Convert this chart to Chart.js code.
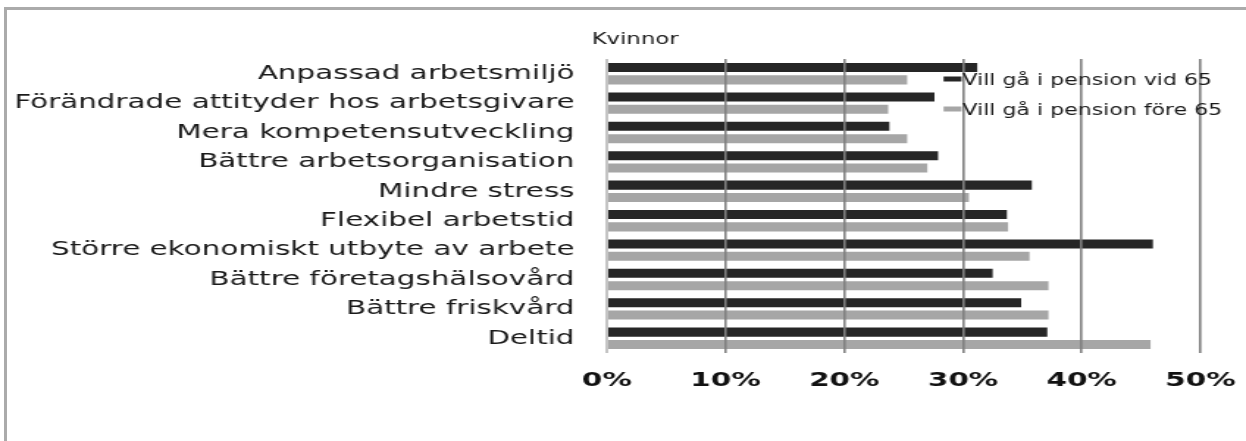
<!DOCTYPE html>
<html>
<head>
<meta charset="utf-8">
<script src="https://cdn.jsdelivr.net/npm/chart.js@4/dist/chart.umd.min.js"></script>
<style>
  html, body { margin: 0; background: #fff; overflow: hidden; width: 1246px; height: 441px; }
  #frame {
    position: absolute; left: 4px; top: 7px; width: 1250px; height: 440px;
    border-top: 3px solid #ababab; border-left: 3px solid #ababab;
  }
  #wrap {
    position: absolute; left: 0; top: 0; width: 858px; height: 441px;
    transform: scaleX(1.4693); transform-origin: 0 0;
  }
</style>
</head>
<body>
<div id="frame"></div>
<div id="wrap"><canvas id="chart" width="858" height="441"></canvas></div>
<script>
// data (percent)
const categories = [
    'Anpassad arbetsmiljö',
    'Förändrade attityder hos arbetsgivare',
    'Mera kompetensutveckling',
    'Bättre arbetsorganisation',
    'Mindre stress',
    'Flexibel arbetstid',
    'Större ekonomiskt utbyte av arbete',
    'Bättre företagshälsovård',
    'Bättre friskvård',
    'Deltid'
];
const vid65 = [31.2, 27.6, 23.8, 27.9, 35.8, 33.7, 46.0, 32.5, 34.9, 37.1];
const fore65 = [25.3, 23.7, 25.3, 27.0, 30.5, 33.8, 35.6, 37.2, 37.2, 45.8];
const tickLabels = ['0%', '10%', '20%', '30%', '40%', '50%'];
const seriesNames = ['Vill gå i pension vid 65', 'Vill gå i pension före 65'];
const chartTitle = 'Kvinnor';

const FONT = '"DejaVu Sans", Verdana, sans-serif';

// title + legend drawn inside the plot, like the original
const overlay = {
    id: 'overlay',
    afterDraw(chart) {
        const ctx = chart.ctx;
        ctx.save();
        ctx.fillStyle = '#1a1a1a';
        ctx.textBaseline = 'alphabetic';
        ctx.textAlign = 'left';
        ctx.font = '15.5px ' + FONT;
        ctx.fillText(chartTitle, 402.7, 43.5);

        const rows = [79, 109];
        chart.data.datasets.forEach((ds, i) => {
            const cy = rows[i];
            ctx.fillStyle = ds.backgroundColor;
            ctx.fillRect(642.2, cy - 2.5, 12.2, 5);
            ctx.fillStyle = '#1a1a1a';
            ctx.font = '15px ' + FONT;
            ctx.fillText(ds.label, 655.1, cy + 5.5);
        });
        ctx.restore();
    }
};

new Chart(document.getElementById('chart'), {
    type: 'bar',
    data: {
        labels: categories,
        datasets: [{
            label: seriesNames[0],
            data: vid65,
            backgroundColor: '#262626',
            categoryPercentage: 0.84,
            barPercentage: 0.73
        }, {
            label: seriesNames[1],
            data: fore65,
            backgroundColor: '#a6a6a6',
            categoryPercentage: 0.84,
            barPercentage: 0.73
        }]
    },
    options: {
        indexAxis: 'y',
        responsive: false,
        animation: false,
        layout: { padding: { left: 0, right: 41, top: 59, bottom: 48 } },
        plugins: {
            legend: { display: false },
            tooltip: { enabled: false }
        },
        scales: {
            x: {
                min: 0,
                max: 50,
                ticks: {
                    stepSize: 10,
                    padding: 16,
                    color: '#111',
                    font: { family: FONT, size: 20, weight: 'bold' },
                    callback: (v, i) => tickLabels[i]
                },
                grid: {
                    z: 1,
                    drawTicks: false,
                    color: ctx => ctx.tick && ctx.tick.value === 0 ? '#c4c4c4' : '#808080',
                    lineWidth: ctx => ctx.tick && ctx.tick.value === 0 ? 2 : 1.6
                },
                border: { display: false },
                afterFit: scale => { scale.height = 40; }
            },
            y: {
                ticks: {
                    padding: 22,
                    color: '#1a1a1a',
                    font: { family: FONT, size: 20 }
                },
                grid: { display: false, drawTicks: false },
                border: { display: false },
                afterFit: scale => { scale.width = 413; }
            }
        }
    },
    plugins: [overlay]
});
</script>
</body>
</html>
